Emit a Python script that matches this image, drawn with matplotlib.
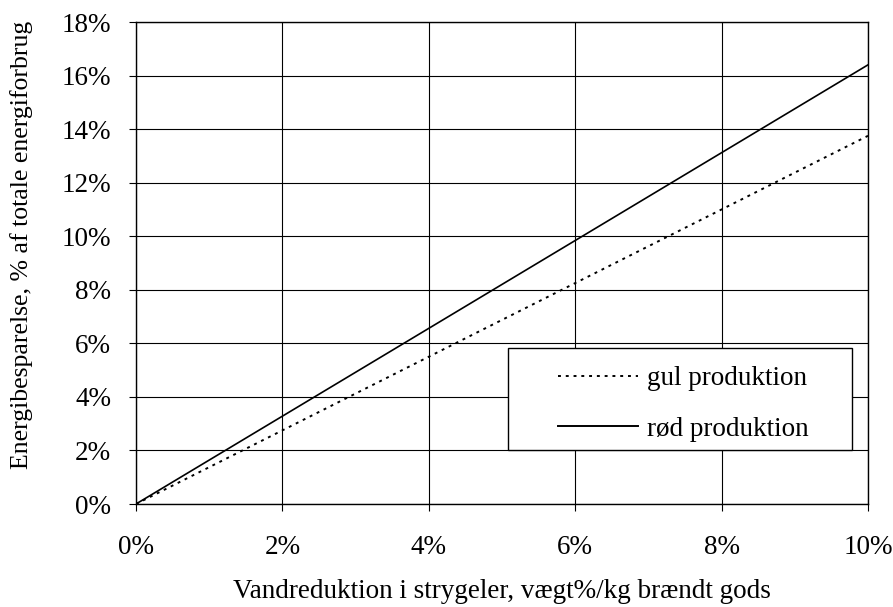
import numpy as np
import matplotlib
matplotlib.use('Agg')
import matplotlib.pyplot as plt
from matplotlib.ticker import FuncFormatter
from matplotlib.patches import Rectangle

plt.rcParams['font.family'] = ['Liberation Serif', 'DejaVu Serif']

vandreduktion = [0, 2, 4, 6, 8, 10]
gul = [0, 2.75, 5.5, 8.25, 11.0, 13.75]
roed = [0, 3.28, 6.56, 9.84, 13.12, 16.4]

W, H = 893, 607
fig = plt.figure(figsize=(W / 100, H / 100), dpi=100)
ax = fig.add_axes([136 / W, 1 - 504 / H, (868 - 136) / W, (504 - 22) / H])

ax.plot(vandreduktion, gul, color='black', linestyle=(0, (1.5, 2.5)), linewidth=1.4,
        label='gul produktion')
ax.plot(vandreduktion, roed, color='black', linestyle='-', linewidth=1.2,
        label='rød produktion')

ax.set_xlim(0, 10)
ax.set_ylim(0, 18)
ax.set_xticks(np.arange(0, 11, 2))
ax.set_yticks(np.arange(0, 19, 2))
pct = FuncFormatter(lambda v, p: f'{v:.0f}%')
ax.xaxis.set_major_formatter(pct)
ax.yaxis.set_major_formatter(pct)
ax.tick_params(direction='out', length=5, width=0.8, labelsize=19.5)
ax.tick_params(axis='x', pad=17)
ax.tick_params(axis='y', pad=13)
ax.grid(True, color='black', linewidth=0.8)
for s in ax.spines.values():
    s.set_color('black')
    s.set_linewidth(1.0)

ax.set_xlabel('Vandreduktion i strygeler, vægt%/kg brændt gods', fontsize=19.5)
ax.xaxis.set_label_coords(0.5, -(598 - 504) / 482)
ax.xaxis.label.set_va('baseline')
ax.set_ylabel('Energibesparelse, % af totale energiforbrug', fontsize=18.5)
ax.yaxis.set_label_coords(-(136 - 33) / 732, (504 - 245) / 482)

# legend box
box = Rectangle((508 / W, 1 - 450 / H), (852 - 508) / W, (450 - 348) / H,
                transform=fig.transFigure, facecolor='white', edgecolor='black',
                linewidth=1.0, zorder=3)
fig.patches.append(box)

handles, labels = ax.get_legend_handles_labels()
leg = fig.legend(handles, labels, loc='upper left', bbox_to_anchor=(558 / W, 1 - 366 / H),
                 fontsize=19.5, frameon=False, handlelength=2.95, borderpad=0,
                 labelspacing=0.95, handletextpad=0.33, borderaxespad=0)
leg.set_zorder(5)
for t in leg.get_lines():
    t.set_linewidth(1.4)

fig.savefig('out.png', dpi=100)
